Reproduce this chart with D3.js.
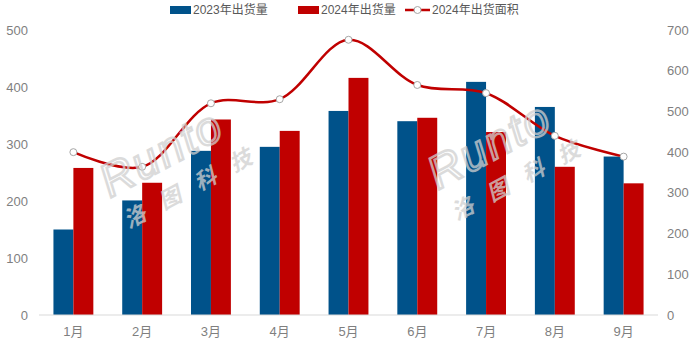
<!DOCTYPE html>
<html>
<head>
<meta charset="utf-8">
<script src="https://cdn.jsdelivr.net/npm/d3@7"></script>
<style>
  body { margin: 0; background: #fff; }
  svg { display: block; }
  .tick-label { font-family: "Liberation Sans", "Noto Sans CJK SC", sans-serif; font-size: 13px; fill: #7f7f7f; }
  .legend-label { font-family: "Liberation Sans", "Noto Sans CJK SC", sans-serif; font-size: 12px; fill: #595959; }
</style>
</head>
<body>
<div id="chart"></div>
<script>
// data
const months = ['1月', '2月', '3月', '4月', '5月', '6月', '7月', '8月', '9月'];
const ship2023 = [150, 201, 288, 295, 358, 340, 409, 365, 278];
const ship2024 = [258, 232, 343, 323, 416, 346, 321, 260, 231];
const area2024 = [400, 364, 520, 530, 676, 565, 545, 440, 389];
const leftTicks = [0, 100, 200, 300, 400, 500];
const rightTicks = [0, 100, 200, 300, 400, 500, 600, 700];
const seriesNames = ['2023年出货量', '2024年出货量', '2024年出货面积'];

const blue = '#00528A', red = '#C00000';
const width = 700, height = 340;
const margin = { top: 30, right: 42, bottom: 25, left: 39 };

let svg = d3.select('#chart').append('svg')
  .attr('width', width)
  .attr('height', height);

let x0 = d3.scaleBand()
  .domain(months)
  .range([margin.left, width - margin.right])
  .paddingInner(0.42)
  .paddingOuter(0.21);

let x1 = d3.scaleBand()
  .domain([0, 1])
  .range([0, x0.bandwidth()]);

let yLeft = d3.scaleLinear().domain([0, 500]).range([height - margin.bottom, margin.top]);
let yRight = d3.scaleLinear().domain([0, 700]).range([height - margin.bottom, margin.top]);

// axis labels
svg.append('g').selectAll('text')
  .data(leftTicks)
  .join('text')
  .attr('class', 'tick-label')
  .attr('x', 28)
  .attr('y', d => yLeft(d))
  .attr('dy', '0.35em')
  .attr('text-anchor', 'end')
  .text(d => d);

svg.append('g').selectAll('text')
  .data(rightTicks)
  .join('text')
  .attr('class', 'tick-label')
  .attr('x', 667)
  .attr('y', d => yRight(d))
  .attr('dy', '0.35em')
  .text(d => d);

svg.append('g').selectAll('text')
  .data(months)
  .join('text')
  .attr('class', 'tick-label')
  .attr('x', d => x0(d) + x0.bandwidth() / 2)
  .attr('y', height - margin.bottom + 16)
  .attr('dy', '0.35em')
  .attr('text-anchor', 'middle')
  .text(d => d);

// bars
let groups = svg.append('g').selectAll('g')
  .data(months)
  .join('g')
  .attr('transform', d => 'translate(' + x0(d) + ',0)');

groups.selectAll('rect')
  .data((d, i) => [ship2023[i], ship2024[i]])
  .join('rect')
  .attr('x', (d, j) => x1(j))
  .attr('width', x1.bandwidth())
  .attr('y', d => yLeft(d))
  .attr('height', d => yLeft(0) - yLeft(d))
  .attr('fill', (d, j) => j == 0 ? blue : red);

// baseline
svg.append('line')
  .attr('x1', margin.left).attr('x2', width - margin.right)
  .attr('y1', yLeft(0)).attr('y2', yLeft(0))
  .attr('stroke', '#d9d9d9').attr('stroke-width', 1);

// smoothed line
let line = d3.line()
  .x((d, i) => x0(months[i]) + x0.bandwidth() / 2)
  .y(d => yRight(d))
  .curve(d3.curveCatmullRom.alpha(0.5));

svg.append('path')
  .datum(area2024)
  .attr('d', line)
  .attr('fill', 'none')
  .attr('stroke', red)
  .attr('stroke-width', 2.5);

svg.append('g').selectAll('circle')
  .data(area2024)
  .join('circle')
  .attr('cx', (d, i) => x0(months[i]) + x0.bandwidth() / 2)
  .attr('cy', d => yRight(d))
  .attr('r', 3.5)
  .attr('fill', '#fff')
  .attr('stroke', '#a6a6a6')
  .attr('stroke-width', 1);

// watermarks
function watermark(cx, cy) {
  let g = svg.append('g')
    .attr('transform', 'translate(' + cx + ',' + cy + ') rotate(-28)')
    .attr('opacity', 0.75);
  g.append('text')
    .attr('x', 0).attr('y', 0)
    .attr('font-family', 'Liberation Sans, sans-serif')
    .attr('font-style', 'italic')
    .attr('font-size', 46)
    .attr('letter-spacing', 2)
    .attr('fill', 'none')
    .attr('stroke', '#d0d0d0')
    .attr('stroke-width', 2.5)
    .text('Runto');
  g.append('text')
    .attr('x', 2).attr('y', 36)
    .attr('font-family', 'Noto Sans CJK SC, sans-serif')
    .attr('font-weight', 'bold')
    .attr('font-style', 'italic')
    .attr('font-size', 22)
    .attr('letter-spacing', 18)
    .attr('fill', '#d0d0d0')
    .text('洛图科技');
}
watermark(110, 198);
watermark(438, 190);

// legend
let legend = svg.append('g');
legend.append('rect').attr('x', 170).attr('y', 6).attr('width', 21).attr('height', 8).attr('fill', blue);
legend.append('text').attr('class', 'legend-label').attr('x', 193).attr('y', 10).attr('dy', '0.35em').text(seriesNames[0]);
legend.append('rect').attr('x', 298).attr('y', 6).attr('width', 21).attr('height', 8).attr('fill', red);
legend.append('text').attr('class', 'legend-label').attr('x', 321).attr('y', 10).attr('dy', '0.35em').text(seriesNames[1]);
legend.append('line').attr('x1', 405).attr('x2', 430).attr('y1', 10).attr('y2', 10).attr('stroke', red).attr('stroke-width', 2.5);
legend.append('circle').attr('cx', 417.5).attr('cy', 10).attr('r', 3.5).attr('fill', '#fff').attr('stroke', '#a6a6a6');
legend.append('text').attr('class', 'legend-label').attr('x', 432).attr('y', 10).attr('dy', '0.35em').text(seriesNames[2]);
</script>
</body>
</html>
